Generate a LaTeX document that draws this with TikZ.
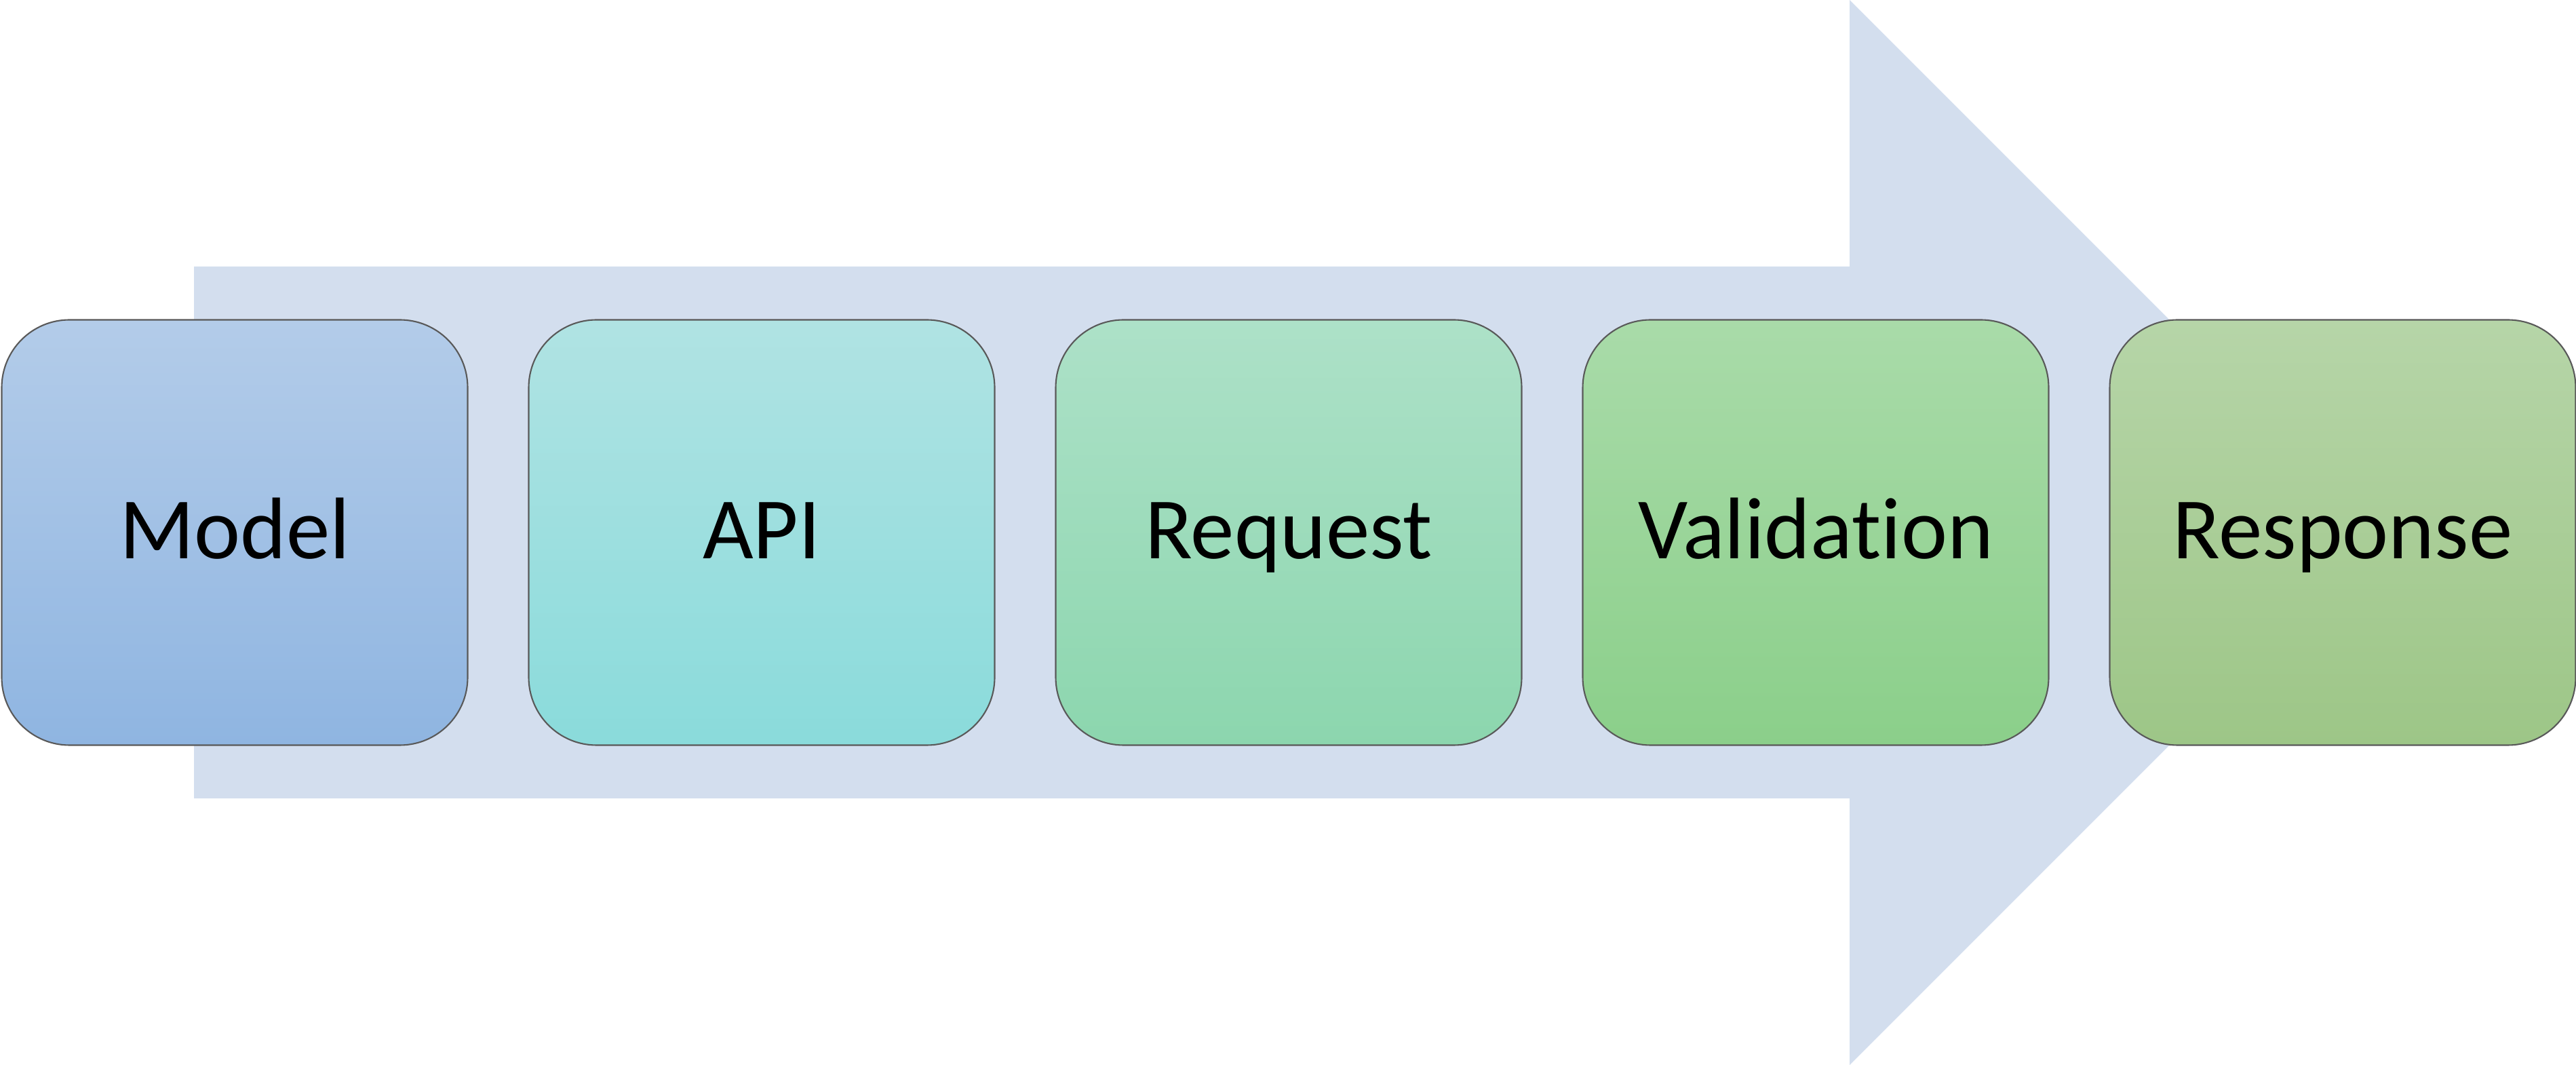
\documentclass[tikz,border=0pt]{standalone}
\usepackage{fontspec}
\setmainfont{Carlito}[Ligatures=CommonOff]
\usetikzlibrary{positioning}
\definecolor{arrowfill}{HTML}{D3DEEE}
\definecolor{modeltop}{HTML}{B3CCE9}
\definecolor{modelbot}{HTML}{8FB5E1}
\definecolor{apitop}{HTML}{B0E3E3}
\definecolor{apibot}{HTML}{8ADBDB}
\definecolor{reqtop}{HTML}{ADE1C8}
\definecolor{reqbot}{HTML}{8CD6AE}
\definecolor{valtop}{HTML}{A9DBA9}
\definecolor{valbot}{HTML}{8BCF8A}
\definecolor{resptop}{HTML}{B6D5A8}
\definecolor{respbot}{HTML}{9DC687}

\begin{document}
\begin{tikzpicture}[
	stage/.style={draw=black!65, line width=0.6pt, rounded corners=1cm,
		minimum width=6.87cm, minimum height=6.27cm, inner sep=0pt, outer sep=0pt,
		text height=0.77cm, text depth=0pt,
		font=\fontsize{36.7}{44}\selectfont}]
			\useasboundingbox (0,0) rectangle (37.98,15.70);
			% big arrow behind the stages
			\fill[arrowfill] (2.86,3.93) -- (2.86,11.77) -- (27.27,11.77) -- (27.27,15.70)
				-- (35.12,7.85) -- (27.27,0) -- (27.27,3.93) -- cycle;
			\node[stage, top color=modeltop, bottom color=modelbot] (model) at (3.46,7.85) {Model};
			\node[stage, top color=apitop, bottom color=apibot, right=0.9cm of model] (api) {API};
			\node[stage, top color=reqtop, bottom color=reqbot, right=0.9cm of api] (request) {Request};
			\node[stage, top color=valtop, bottom color=valbot, right=0.9cm of request] (validation) {Validation};
			\node[stage, top color=resptop, bottom color=respbot, right=0.9cm of validation] (response) {Response};
\end{tikzpicture}
\end{document}
